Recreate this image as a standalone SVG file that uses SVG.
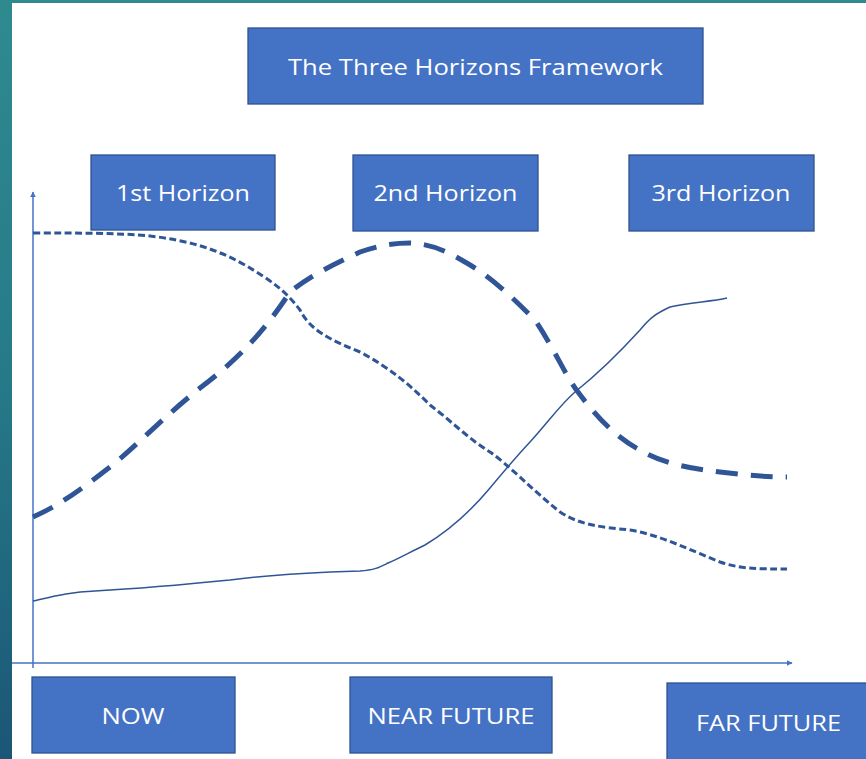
<svg xmlns="http://www.w3.org/2000/svg" width="866" height="759" viewBox="0 0 866 759">
<defs>
<linearGradient id="bg" x1="0" y1="0" x2="0" y2="1">
<stop offset="0" stop-color="#2f8a90"/>
<stop offset="0.5" stop-color="#267a88"/>
<stop offset="1" stop-color="#1b5676"/>
</linearGradient>
<marker id="arr" viewBox="0 0 10 10" refX="9" refY="5" markerWidth="6" markerHeight="6" orient="auto" markerUnits="userSpaceOnUse">
<path d="M0,0 L10,5 L0,10 z" fill="#4472c4"/>
</marker>
<style>
.box{fill:#4472c4;stroke:#2f528f;stroke-width:1.3}
.lbl{fill:#ffffff;font-family:"Open Sans","Liberation Sans",sans-serif;font-size:22px;text-anchor:middle}
.axis{stroke:#4472c4;stroke-width:1.5;fill:none}
.c{fill:none;stroke:#2f5597;stroke-linecap:butt;stroke-linejoin:round}
</style>
</defs>
<rect x="0" y="0" width="866" height="759" fill="url(#bg)"/>
<rect x="12" y="3" width="854" height="756" fill="#ffffff"/>

<g id="connectors">
<line class="axis" x1="33" y1="668" x2="33" y2="192" marker-end="url(#arr)"/>
<line class="axis" x1="12" y1="663" x2="792" y2="663" marker-end="url(#arr)"/>
<path class="c" stroke-width="3" stroke-dasharray="7 3.5" d="M33,233 C80,233 120,233 150,236 C185,240 215,248 245,265 C270,280 285,290 300,310 C310,330 330,340 360,352 C390,368 410,385 430,405 C450,420 470,440 490,452 C510,466 530,488 560,512 C580,525 600,527 630,530 C660,535 690,550 720,562 C740,569 760,569 787,569"/>
<path class="c" stroke-width="5" stroke-dasharray="22 13" d="M33,517 C60,505 80,490 110,467 C140,443 160,420 200,388 C240,358 265,330 290,292 C310,276 330,266 360,252 C380,245 395,243 410,243 C430,244 445,250 465,262 C490,276 510,295 535,320 C555,350 565,375 578,392 C595,415 615,437 640,450 C660,462 685,468 720,472 C745,475 765,477 787,477"/>
<path class="c" stroke-width="1.5" d="M33,601 C55,596 70,592 95,591 C130,589 170,586 230,580 C260,576 290,573 360,571 C375,570 380,567 388,563 C400,558 410,552 425,545 C450,530 470,512 490,488 C505,470 515,458 530,442 C550,420 560,405 575,392 C600,372 620,352 640,330 C650,318 655,314 670,307 C690,302 710,302 727,298"/>
</g>

<g id="title"><rect class="box" x="248" y="28" width="455" height="76"/><text class="lbl" x="475.5" y="75" font-size="23" textLength="375" lengthAdjust="spacingAndGlyphs">The Three Horizons Framework</text></g>
<g id="h1"><rect class="box" x="91" y="155" width="184" height="75"/><text class="lbl" x="183" y="201" textLength="134" lengthAdjust="spacingAndGlyphs">1st Horizon</text></g>
<g id="h2"><rect class="box" x="353" y="155" width="185" height="76"/><text class="lbl" x="445.5" y="201" textLength="144" lengthAdjust="spacingAndGlyphs">2nd Horizon</text></g>
<g id="h3"><rect class="box" x="629" y="155" width="185" height="76"/><text class="lbl" x="721" y="201" textLength="139" lengthAdjust="spacingAndGlyphs">3rd Horizon</text></g>
<g id="now"><rect class="box" x="32" y="677" width="203" height="76"/><text class="lbl" x="133" y="724" textLength="63" lengthAdjust="spacingAndGlyphs">NOW</text></g>
<g id="near"><rect class="box" x="350" y="677" width="202" height="76"/><text class="lbl" x="451" y="724" textLength="167" lengthAdjust="spacingAndGlyphs">NEAR FUTURE</text></g>
<g id="far"><rect class="box" x="667" y="683" width="205" height="80"/><text class="lbl" x="768.5" y="731" textLength="145" lengthAdjust="spacingAndGlyphs">FAR FUTURE</text></g>
</svg>
